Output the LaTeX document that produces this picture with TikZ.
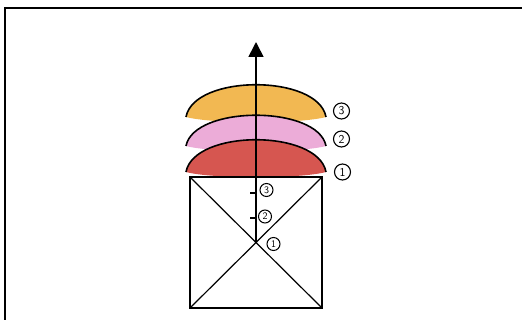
\documentclass[tikz,border=0pt]{standalone}
\usetikzlibrary{arrows.meta}
\definecolor{lensorange}{RGB}{242,184,82}
\definecolor{lenspink}{RGB}{236,172,216}
\definecolor{lensred}{RGB}{214,86,80}
\tikzset{
  numlabel/.style={circle,draw,line width=1.1pt,inner sep=0pt,minimum size=16pt,font=\sffamily\large},
  smalllabel/.style={circle,draw,line width=1pt,inner sep=0pt,minimum size=13pt,font=\sffamily},
  outline/.style={line width=1.6pt},
  thin line/.style={line width=1.8pt}
}
\begin{document}
\begin{tikzpicture}[x=1pt,y=-1pt]
\useasboundingbox (0,0) rectangle (522,320);
% frame
\draw[line width=2pt] (5,320) -- (5,8) -- (522,8);
% lenses
\fill[lensorange] (186,117) .. controls (194,74) and (318,74) .. (326,117)
  .. controls (300,124) and (212,124) .. (186,117) -- cycle;
\draw[outline] (186,117) .. controls (194,74) and (318,74) .. (326,117);
\fill[lenspink] (186,146) .. controls (194,105) and (318,105) .. (326,146)
  .. controls (300,153) and (212,153) .. (186,146) -- cycle;
\draw[outline] (186,146) .. controls (194,105) and (318,105) .. (326,146);
\fill[lensred] (186,172) .. controls (194,129) and (318,129) .. (326,172)
  .. controls (300,179) and (212,179) .. (186,172) -- cycle;
\draw[outline] (186,172) .. controls (194,129) and (318,129) .. (326,172);
% square
\coordinate (tl) at (190,177);
\coordinate (tr) at (322,177);
\coordinate (br) at (322,308);
\coordinate (bl) at (190,308);
\coordinate (ctr) at (256,242.5);
\coordinate (tip) at (256,42);
\draw[thin line] (tl) rectangle (br);
\draw[line width=1.2pt] (tl) -- (br) (tr) -- (bl);
% axis
\draw[line width=1.6pt,-{Triangle[width=15pt,length=15pt]}] (ctr) -- (tip);
% ticks
\coordinate (t3) at (256,193);
\coordinate (t2) at (256,218);
\draw[line width=2.2pt] (t3) -- ++(-6,0);
\draw[line width=2.2pt] (t2) -- ++(-6,0);
% inner labels
\node[smalllabel] (i3) at (266.5,190) {3};
\node[smalllabel] (i2) at (265,216.5) {2};
\node[smalllabel] (i1) at (273.5,244) {1};
% outer labels
\node[numlabel] (o3) at (341.5,111) {3};
\node[numlabel] (o2) at (341.5,139) {2};
\node[numlabel] (o1) at (342.5,172) {1};
\end{tikzpicture}
\end{document}
